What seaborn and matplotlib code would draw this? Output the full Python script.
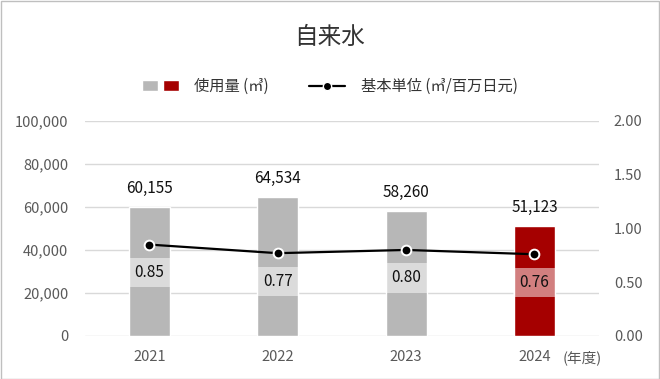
import matplotlib
matplotlib.use("Agg")
import matplotlib.pyplot as plt
import numpy as np
import pandas as pd
import seaborn as sns
from matplotlib.legend_handler import HandlerTuple
from matplotlib.lines import Line2D
from matplotlib.patches import Patch, Rectangle

years = ["2021", "2022", "2023", "2024"]
usage = [60155, 64534, 58260, 51123]
intensity = [0.85, 0.77, 0.80, 0.76]
bar_colors = ["#b7b7b7", "#b7b7b7", "#b7b7b7", "#a50000"]

sns.set_theme(style="white")
plt.rcParams["font.family"] = ["Noto Sans CJK JP", "DejaVu Sans"]

df = pd.DataFrame({"year": years, "usage": usage, "intensity": intensity})

fig = plt.figure(figsize=(6.6, 3.79), dpi=100)
ax = fig.add_axes([0.129, 0.1135, 0.778, 0.5675])

sns.barplot(data=df, x="year", y="usage", hue="year", palette=bar_colors,
            legend=False, width=0.32, saturation=1, ax=ax)
ax.set_ylim(0, 100000)
ax.set_yticks(np.arange(0, 100001, 20000))
ax.set_yticklabels([f"{v:,}" for v in range(0, 100001, 20000)])
ax.yaxis.grid(True, color="#d9d9d9", linewidth=1)
ax.set_axisbelow(True)
ax.set_xlabel("")
ax.set_ylabel("")
for s in ax.spines.values():
    s.set_visible(False)
ax.tick_params(axis="both", length=0, labelsize=10.5, colors="#595959")
ax.tick_params(axis="y", pad=12)
ax.tick_params(axis="x", pad=10)
ax.set_xlim(-0.5, 3.5)

for i, v in enumerate(usage):
    ax.annotate(f"{v:,}", (i, v), xytext=(0, 7), textcoords="offset points",
                ha="center", va="bottom", fontsize=11, color="#111111")

ax.text(3.22, -0.068, "(年度)", transform=ax.get_xaxis_transform(),
        ha="left", va="top", fontsize=10.5, color="#595959")

ax2 = ax.twinx()
ax2.plot(np.arange(len(years)), intensity, color="black", linewidth=1.6,
         marker="o", markersize=7, markerfacecolor="black",
         markeredgecolor="white", markeredgewidth=1.4, zorder=5)
ax2.set_ylim(0, 2.0)
ax2.set_yticks(np.arange(0, 2.01, 0.5))
ax2.set_yticklabels([f"{v:.2f}" for v in np.arange(0, 2.01, 0.5)])
for s in ax2.spines.values():
    s.set_visible(False)
ax2.tick_params(axis="y", length=0, labelsize=10.5, colors="#595959", pad=11)

for i, v in enumerate(intensity):
    ax2.annotate(f"{v:.2f}", (i, v), xytext=(0, -14), textcoords="offset points",
                 ha="center", va="top", fontsize=11, color="#111111",
                 bbox=dict(boxstyle="square,pad=0.4", facecolor="white",
                           edgecolor="none", alpha=0.5))

fig.text(0.5, 0.9, "自来水", ha="center", va="center", fontsize=17, color="#333333")

bar_handle = (Patch(facecolor="#b7b7b7"), Patch(facecolor="#a50000"))
line_handle = Line2D([], [], color="black", linewidth=1.6, marker="o", markersize=6,
                     markerfacecolor="black", markeredgecolor="white")
fig.legend([bar_handle, line_handle], ["使用量 (㎥)", "基本単位 (㎥/百万日元)"],
           handler_map={tuple: HandlerTuple(ndivide=None, pad=0.3)},
           loc="center", bbox_to_anchor=(0.5, 0.772), ncol=2, frameon=False,
           fontsize=11, handlelength=2.4, columnspacing=2.6, handletextpad=1.0,
           labelcolor="#333333")

fig.patches.append(Rectangle((0.001, 0.001), 0.997, 0.997, transform=fig.transFigure,
                             fill=False, edgecolor="#bfbfbf", linewidth=1))

fig.savefig("out.png", dpi=100)
